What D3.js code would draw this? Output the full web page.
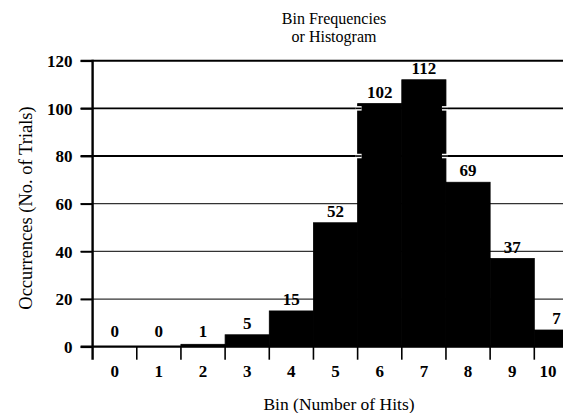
<!DOCTYPE html>
<html>
<head>
<meta charset="utf-8">
<script src="https://cdn.jsdelivr.net/npm/d3@7"></script>
<style>
  html, body { margin: 0; padding: 0; background: #fff; }
  svg { display: block; }
  text { font-family: "Liberation Serif", "DejaVu Serif", serif; fill: #000; }
</style>
</head>
<body>
<svg id="chart" width="563" height="413"></svg>
<script>
const bins = ["0", "1", "2", "3", "4", "5", "6", "7", "8", "9", "10"];
const counts = [0, 0, 1, 5, 15, 52, 102, 112, 69, 37, 7];
const yTicks = [0, 20, 40, 60, 80, 100, 120];
const titleLines = ["Bin Frequencies", "or Histogram"];
const xTitle = "Bin (Number of Hits)";
const yTitle = "Occurrences (No. of Trials)";

const W = 563, H = 413;
const left = 92.6, bandW = 44.17;
const svg = d3.select("#chart");

const x = d3.scaleBand().domain(bins).range([left, left + bandW * bins.length]).padding(0);
const y = d3.scaleLinear().domain([0, 120]).range([346.7, 60.7]);

// gridlines
const gridStyle = {120: [2, "#000"], 100: [1.6, "#000"], 80: [2, "#000"], 60: [1.2, "#333"], 40: [1.2, "#333"], 20: [1.2, "#333"], 0: [2.2, "#000"]};
svg.append("g").selectAll("line").data(yTicks).join("line")
  .attr("x1", left - 12).attr("x2", W)
  .attr("y1", d => y(d)).attr("y2", d => y(d))
  .attr("stroke", d => gridStyle[d][1])
  .attr("stroke-width", d => gridStyle[d][0]);

// bars
const data = bins.map((b, i) => ({bin: b, count: counts[i]}));
svg.append("g").selectAll("rect").data(data).join("rect")
  .attr("x", d => x(d.bin))
  .attr("width", x.bandwidth())
  .attr("y", d => y(d.count))
  .attr("height", d => y(0) - y(d.count))
  .attr("fill", "#000")
  .attr("stroke", "#000").attr("stroke-width", 0.8);

// gridline stubs with white halo poking into tall bars (100, 80)
const stubLines = [100, 80];
const stubs = [];
stubLines.forEach(v => {
  data.forEach((d, i) => {
    if (d.count > v) {
      const prev = data[i - 1], next = data[i + 1];
      if (!prev || prev.count <= v) stubs.push({v, x0: x(d.bin) - 2, x1: x(d.bin) + 4});
      if (!next || next.count <= v) stubs.push({v, x0: x(d.bin) + x.bandwidth() - 4, x1: x(d.bin) + x.bandwidth() + 2});
    }
  });
});
const sg = svg.append("g");
sg.selectAll("line.halo").data(stubs).join("line").attr("class", "halo")
  .attr("x1", d => d.x0).attr("x2", d => d.x1)
  .attr("y1", d => y(d.v)).attr("y2", d => y(d.v))
  .attr("stroke", "#fff").attr("stroke-width", 4.5);
sg.selectAll("line.core").data(stubs).join("line").attr("class", "core")
  .attr("x1", d => d.x0).attr("x2", d => d.x1)
  .attr("y1", d => y(d.v)).attr("y2", d => y(d.v))
  .attr("stroke", "#000").attr("stroke-width", 1.6);

// y axis
const yAxis = d3.axisLeft(y).tickValues(yTicks).tickSize(12).tickPadding(8);
const gy = svg.append("g").attr("transform", `translate(${left},0)`).call(yAxis);
gy.select(".domain").remove();
gy.selectAll(".tick line").attr("stroke", "#000").attr("stroke-width", 1.8);
gy.selectAll(".tick text").attr("font-size", 17).attr("font-family", "Liberation Serif")
  .attr("font-weight", "bold").attr("dy", "0.34em");
svg.append("line").attr("x1", left).attr("x2", left).attr("y1", y(120) - 1).attr("y2", y(0) + 13)
  .attr("stroke", "#000").attr("stroke-width", 2.4);

// x axis: ticks at bin boundaries
const boundaries = bins.slice(1).map(b => x(b));
svg.append("g").selectAll("line").data(boundaries).join("line")
  .attr("x1", d => d).attr("x2", d => d)
  .attr("y1", y(0)).attr("y2", y(0) + 13)
  .attr("stroke", "#000").attr("stroke-width", 1.6);
svg.append("g").selectAll("text").data(bins).join("text")
  .attr("x", d => Math.min(x(d) + x.bandwidth() / 2, W - 1))
  .attr("y", 377)
  .attr("text-anchor", d => (x(d) + x.bandwidth() / 2 + 9 > W) ? "end" : "middle")
  .attr("font-size", 17).attr("font-weight", "bold")
  .text(d => d);

// value labels
svg.append("g").selectAll("text").data(data).join("text")
  .attr("x", d => x(d.bin) + x.bandwidth() / 2)
  .attr("y", d => Math.min(y(d.count) - 6, 337))
  .attr("text-anchor", "middle")
  .attr("font-size", 17).attr("font-weight", "bold")
  .text(d => d.count);

// title
svg.append("g").selectAll("text").data(titleLines).join("text")
  .attr("x", 334).attr("y", (d, i) => 24 + i * 18)
  .attr("text-anchor", "middle").attr("font-size", 16)
  .text(d => d);

// axis titles
svg.append("text").attr("x", 339).attr("y", 410)
  .attr("text-anchor", "middle").attr("font-size", 17.5).text(xTitle);
svg.append("text").attr("transform", "translate(32,208) rotate(-90)")
  .attr("text-anchor", "middle").attr("font-size", 18.5).text(yTitle);
</script>
</body>
</html>
